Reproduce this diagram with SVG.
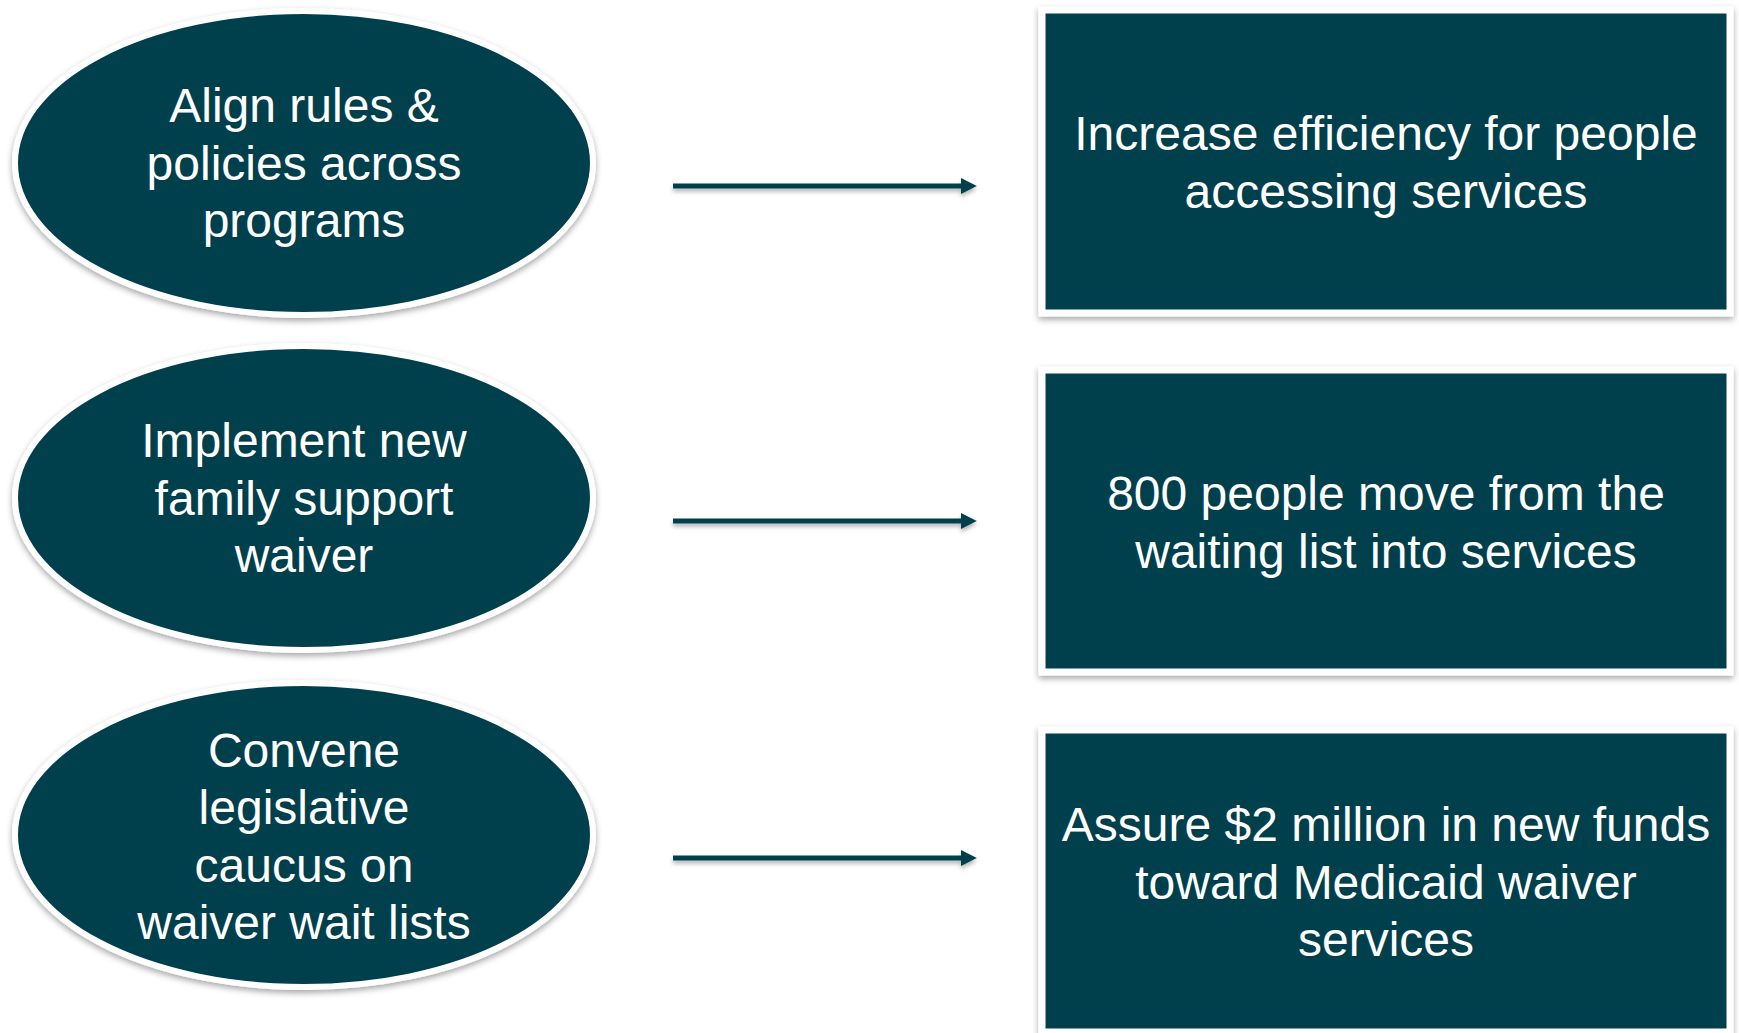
<svg xmlns="http://www.w3.org/2000/svg" width="1739" height="1033" viewBox="0 0 1739 1033">
  <style>
    .node { fill: #02404E; stroke: #FFFFFF; }
    .ell { stroke-width: 6; filter: url(#shadow); }
    .box { stroke-width: 7; filter: url(#shadow); }
    .lbl { font-family: "Liberation Sans", Arial, Helvetica, sans-serif; font-size: 48px; fill: #FFFFFF; text-anchor: middle; }
    .conn { stroke: #02404E; stroke-width: 5; fill: none; marker-end: url(#arrow); filter: url(#lshadow); }
  </style>
  <defs>
    <filter id="shadow" x="-10%" y="-10%" width="120%" height="125%">
      <feDropShadow dx="0" dy="3" stdDeviation="3" flood-color="#000000" flood-opacity="0.35"/>
    </filter>
    <filter id="lshadow" filterUnits="userSpaceOnUse" x="0" y="0" width="1739" height="1033">
      <feDropShadow dx="0" dy="3" stdDeviation="2" flood-color="#000000" flood-opacity="0.3"/>
    </filter>
    <marker id="arrow" viewBox="0 0 10 10" refX="2" refY="5" markerWidth="3.2" markerHeight="3.2" orient="auto" markerUnits="strokeWidth">
      <path d="M0,0 L10,5 L0,10 Z" fill="#02404E"/>
    </marker>
  </defs>
  <rect width="1739" height="1033" fill="#FFFFFF"/>

  <g id="connectors">
    <line class="conn" x1="673" y1="186" x2="964" y2="186"/>
    <line class="conn" x1="673" y1="521" x2="964" y2="521"/>
    <line class="conn" x1="673" y1="858" x2="964" y2="858"/>
  </g>

  <g id="node-align">
    <ellipse class="node ell" cx="304" cy="163" rx="289" ry="152"/>
    <text class="lbl" x="304" y="122">Align rules &amp;</text>
    <text class="lbl" x="304" y="180">policies across</text>
    <text class="lbl" x="304" y="237">programs</text>
  </g>

  <g id="node-implement">
    <ellipse class="node ell" cx="304" cy="498" rx="289" ry="152"/>
    <text class="lbl" x="304" y="457">Implement new</text>
    <text class="lbl" x="304" y="515">family support</text>
    <text class="lbl" x="304" y="572">waiver</text>
  </g>

  <g id="node-convene">
    <ellipse class="node ell" cx="304" cy="835" rx="289" ry="152"/>
    <text class="lbl" x="304" y="767">Convene</text>
    <text class="lbl" x="304" y="824">legislative</text>
    <text class="lbl" x="304" y="882">caucus on</text>
    <text class="lbl" x="304" y="939">waiver wait lists</text>
  </g>

  <g id="node-efficiency">
    <rect class="node box" x="1042" y="10" width="688" height="303"/>
    <text class="lbl" x="1386" y="150">Increase efficiency for people</text>
    <text class="lbl" x="1386" y="208">accessing services</text>
  </g>

  <g id="node-800">
    <rect class="node box" x="1042" y="370" width="688" height="302"/>
    <text class="lbl" x="1386" y="510">800 people move from the</text>
    <text class="lbl" x="1386" y="568">waiting list into services</text>
  </g>

  <g id="node-funds">
    <rect class="node box" x="1042" y="730" width="688" height="302"/>
    <text class="lbl" x="1386" y="841">Assure $2 million in new funds</text>
    <text class="lbl" x="1386" y="899">toward Medicaid waiver</text>
    <text class="lbl" x="1386" y="956">services</text>
  </g>
</svg>
